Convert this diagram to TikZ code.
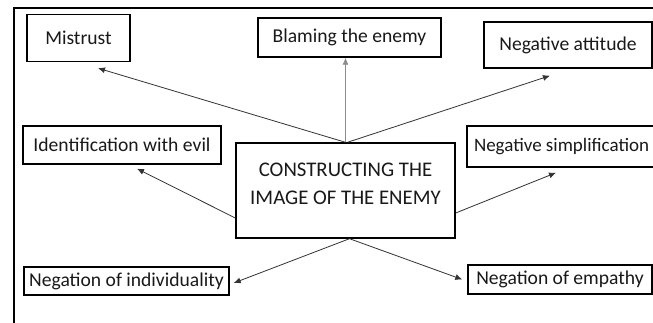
\documentclass[tikz,border=0pt]{standalone}
\usepackage{fontspec}
\setmainfont{Carlito}
\usetikzlibrary{arrows.meta,calc}
\begin{document}
\begin{tikzpicture}[x=1pt,y=-1pt,
  box/.style={draw=black,line width=1.4pt,rectangle,inner sep=0pt,text=black!90,
    font=\fontsize{19.6}{23}\selectfont},
  conn/.style={draw=black!80,line width=0.8pt,-{Latex[length=7pt,width=6pt]}},
  lightconn/.style={conn,draw=black!45}]
\useasboundingbox (0,0) rectangle (653,322);
\clip (0,0) rectangle (653,322);
\fill[white] (0,0) rectangle (653,322);
\draw[line width=1.6pt] (14,340) -- (14,8) -- (700,8);
\node[box,minimum width=103pt,minimum height=47pt] (m) at (78.5,38) {Mistrust};
\node[box,minimum width=183pt,minimum height=39pt] (b) at (349.5,37.5) {Blaming the enemy};
\node[box,minimum width=168pt,minimum height=46pt] (na) at (568,45) {Negative attitude};
\node[box,minimum width=198pt,minimum height=38pt] (id) at (122,145) {Identification with evil};
\node[box,minimum width=191pt,minimum height=41pt,font=\fontsize{19}{23}\selectfont] (ns) at (562.5,146.5) {\makebox[191pt][l]{\hspace*{7pt}Negative simplification}};
\node[box,minimum width=205pt,minimum height=28pt] (ni) at (126.5,281) {Negation of individuality};
\node[box,minimum width=184pt,minimum height=29pt] (ne) at (560,279.5) {Negation of empathy};
\node[box,minimum width=219pt,minimum height=95pt] (c) at (345.5,190.5) {};
\node[align=center,text=black!90,font=\fontsize{20.8}{28}\selectfont] (ct) at (345.5,184) {CONSTRUCTING THE\\IMAGE OF THE ENEMY};
\draw[conn] (c.north) -- ([shift={(19.5pt,-6pt)}]m.south);
\draw[lightconn] (c.north) -- (c.north |- b.south);
\draw[conn] ([xshift=2pt]c.north) -- ([shift={(-18pt,-7pt)}]na.south);
\draw[conn] ([yshift=-27.5pt]c.west) -- ([shift={(15pt,-4pt)}]id.south);
\draw[conn] ([yshift=-22.5pt]c.east) -- ([shift={(-6.5pt,-5pt)}]ns.south);
\draw[conn] ([xshift=4pt]c.south) -- ([shift={(4pt,-2pt)}]ni.east);
\draw[conn] ([xshift=4pt]c.south) -- ([xshift=-5pt]ne.west);
\end{tikzpicture}
\end{document}
